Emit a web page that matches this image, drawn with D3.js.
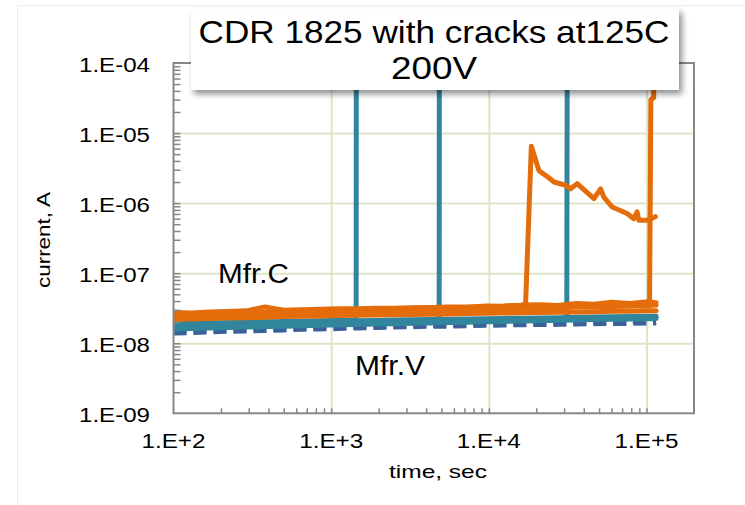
<!DOCTYPE html>
<html><head><meta charset="utf-8">
<script src="https://cdn.jsdelivr.net/npm/d3@7"></script>
<style>body{margin:0;background:#fff}svg{display:block;font-family:Arial,"Liberation Sans",sans-serif}</style>
</head><body>
<svg id="c" width="745" height="505"></svg>
<script>
// ---------- data ----------
const xTickValues = [100, 1000, 10000, 100000];
const xTickLabels = ["1.E+2", "1.E+3", "1.E+4", "1.E+5"];
const yTickValues = [1e-9, 1e-8, 1e-7, 1e-6, 1e-5, 1e-4];
const yTickLabels = ["1.E-09", "1.E-08", "1.E-07", "1.E-06", "1.E-05", "1.E-04"];

const times = [100,130,170,220,290,380,500,650,850,1100,1450,1900,2500,3300,4300,5600,7300,9500,12400,16200,21000,27400,35700,46500,60500,78800,102000,115000];

// Mfr.V dashed (navy)
const dashV1 = [1.45e-8,1.45e-8,1.5e-8,1.55e-8,1.55e-8,1.6e-8,1.6e-8,1.65e-8,1.65e-8,1.7e-8,1.7e-8,1.75e-8,1.75e-8,1.8e-8,1.8e-8,1.8e-8,1.85e-8,1.85e-8,1.85e-8,1.9e-8,1.9e-8,1.95e-8,1.9e-8,2.0e-8,1.9e-8,2.05e-8,1.95e-8,2.0e-8];
const dashV2 = [1.4e-8,1.42e-8,1.45e-8,1.48e-8,1.5e-8,1.52e-8,1.55e-8,1.58e-8,1.6e-8,1.62e-8,1.65e-8,1.68e-8,1.7e-8,1.72e-8,1.75e-8,1.75e-8,1.78e-8,1.8e-8,1.82e-8,1.84e-8,1.85e-8,1.86e-8,1.88e-8,1.9e-8,1.92e-8,1.92e-8,1.94e-8,1.95e-8];

// teal series (full length)
const tealA = [1.6e-8,1.62e-8,1.65e-8,1.68e-8,1.7e-8,1.73e-8,1.75e-8,1.78e-8,1.8e-8,1.83e-8,1.85e-8,1.88e-8,1.9e-8,1.93e-8,1.95e-8,1.98e-8,2.0e-8,2.03e-8,2.05e-8,2.08e-8,2.1e-8,2.13e-8,2.15e-8,2.18e-8,2.2e-8,2.22e-8,2.24e-8,2.25e-8];
const tealC = [1.7e-8,1.72e-8,1.75e-8,1.78e-8,1.8e-8,1.82e-8,1.85e-8,1.88e-8,1.9e-8,1.92e-8,1.95e-8,1.97e-8,2.0e-8,2.02e-8,2.05e-8,2.07e-8,2.1e-8,2.12e-8,2.15e-8,2.17e-8,2.2e-8,2.22e-8,2.24e-8,2.26e-8,2.28e-8,2.3e-8,2.32e-8,2.33e-8];
const tealB = [1.85e-8,1.88e-8,1.9e-8,1.93e-8,1.95e-8,1.98e-8,2.0e-8,2.02e-8,2.05e-8,2.08e-8,2.1e-8,2.12e-8,2.14e-8,2.16e-8,2.18e-8,2.2e-8,2.22e-8,2.24e-8,2.26e-8,2.28e-8,2.3e-8,2.32e-8,2.34e-8,2.36e-8,2.38e-8,2.4e-8,2.42e-8,2.43e-8];
// teal series that fail (current jumps off scale)
const tealS1Times = [100,170,290,500,850,1100,1440,1445];
const tealS1 = [1.9e-8,1.95e-8,2.0e-8,2.05e-8,2.1e-8,2.12e-8,2.15e-8,1e-2];
const tealS2Times = [100,170,290,500,850,1450,2500,3300,4300,4840,4860];
const tealS2 = [1.75e-8,1.8e-8,1.85e-8,1.9e-8,1.95e-8,2.0e-8,2.05e-8,2.1e-8,2.12e-8,2.15e-8,1e-2];
const tealS3Times = [100,170,290,500,850,1450,2500,4300,7300,12400,21000,31200,31500];
const tealS3 = [1.65e-8,1.7e-8,1.75e-8,1.8e-8,1.85e-8,1.9e-8,1.95e-8,2.0e-8,2.05e-8,2.1e-8,2.15e-8,2.2e-8,1e-2];

// Mfr.C orange series
const orangeA = [2.75e-8,2.7e-8,2.8e-8,2.85e-8,2.9e-8,3.3e-8,2.95e-8,3.0e-8,3.05e-8,3.1e-8,3.1e-8,3.15e-8,3.15e-8,3.2e-8,3.25e-8,3.3e-8,3.25e-8,3.4e-8,3.35e-8,3.5e-8,3.55e-8,3.45e-8,3.7e-8,3.6e-8,3.85e-8,3.7e-8,3.9e-8,3.8e-8];
const orangeB = [2.5e-8,2.55e-8,2.6e-8,2.65e-8,2.7e-8,2.75e-8,2.8e-8,2.85e-8,2.9e-8,2.95e-8,2.95e-8,3.0e-8,3.0e-8,3.05e-8,3.1e-8,3.1e-8,3.15e-8,3.2e-8,3.2e-8,3.25e-8,3.3e-8,3.3e-8,3.35e-8,3.4e-8,3.45e-8,3.5e-8,3.45e-8,3.5e-8];
const orangeC = [2.2e-8,2.22e-8,2.25e-8,2.3e-8,2.32e-8,2.35e-8,2.4e-8,2.42e-8,2.45e-8,2.48e-8,2.5e-8,2.52e-8,2.55e-8,2.58e-8,2.6e-8,2.62e-8,2.65e-8,2.68e-8,2.7e-8,2.72e-8,2.75e-8,2.78e-8,2.8e-8,2.82e-8,2.85e-8,2.87e-8,2.9e-8,2.9e-8];
const orangeDecayTimes = [100,170,290,500,850,1450,2500,4300,7300,12400,16200,17100,18600,20800,24000,25900,30700,33000,36300,46400,51100,53600,60500,75300,83000,87100,89300,100700,113800];
const orangeDecay = [2.6e-8,2.65e-8,2.75e-8,2.85e-8,2.9e-8,3.0e-8,3.1e-8,3.2e-8,3.3e-8,3.4e-8,3.5e-8,3.6e-8,6.5e-6,2.9e-6,2.3e-6,2.0e-6,1.8e-6,1.6e-6,1.9e-6,1.16e-6,1.6e-6,1.22e-6,8.8e-7,7.1e-7,6.0e-7,7.5e-7,5.7e-7,5.7e-7,6.4e-7];
const orangeSpikeTimes = [100,170,290,500,850,1450,2500,4300,7300,12400,21000,35700,60500,88000,104500,106500,111000,112500];
const orangeSpike = [2.4e-8,2.45e-8,2.55e-8,2.6e-8,2.7e-8,2.8e-8,2.85e-8,2.95e-8,3.0e-8,3.1e-8,3.2e-8,3.3e-8,3.35e-8,3.4e-8,3.4e-8,3.0e-5,3.2e-5,1e-3];

const ORANGE = "#e46c0a", TEAL = "#31859c", NAVY = "#3a6199";

// ---------- layout ----------
const svg = d3.select("#c");
const L = 173.5, R = 694, T = 63, B = 413.3;
const x = d3.scaleLog().domain([100, 2e5]).range([L, R]);
const y = d3.scaleLog().domain([1e-9, 1e-4]).range([B, T]);

// faint chart-area border
svg.append("rect").attr("x", 17.5).attr("y", 5.5).attr("width", 800).attr("height", 600)
  .attr("fill", "none").attr("stroke", "#ececec").attr("stroke-width", 1);

// gridlines
svg.append("g").attr("transform", `translate(0,${B})`)
  .call(d3.axisBottom(x).tickValues([1000, 10000, 100000]).tickSize(-(B - T)).tickFormat(""))
  .call(g => { g.select(".domain").remove(); g.selectAll("line").attr("stroke", "#dce6c6").attr("stroke-width", 2); });
svg.append("g").attr("transform", `translate(${L},0)`)
  .call(d3.axisLeft(y).tickValues([1e-8, 1e-7, 1e-6, 1e-5]).tickSize(-(R - L)).tickFormat(""))
  .call(g => { g.select(".domain").remove(); g.selectAll("line").attr("stroke", "#dce6c6").attr("stroke-width", 2); });

// clip
svg.append("clipPath").attr("id", "clip").append("rect")
  .attr("x", L).attr("y", T).attr("width", R - L).attr("height", B - T);
const plot = svg.append("g").attr("clip-path", "url(#clip)");

const line = d3.line().x(d => x(d[0])).y(d => y(d[1]));
function draw(ts, vs, color, dash) {
  plot.append("path").datum(ts.map((t, i) => [t, vs[i]]))
    .attr("d", line).attr("fill", "none").attr("stroke", color)
    .attr("stroke-width", 5).attr("stroke-linejoin", "round")
    .attr("stroke-linecap", dash ? "butt" : "round")
    .attr("stroke-dasharray", dash ? "13,7" : null);
}
draw(times, dashV2, NAVY, true);
draw(times, dashV1, NAVY, true);
draw(times, tealA, TEAL);
draw(times, tealC, TEAL);
draw(times, tealB, TEAL);
draw(tealS1Times, tealS1, TEAL);
draw(tealS2Times, tealS2, TEAL);
draw(tealS3Times, tealS3, TEAL);
draw(orangeDecayTimes, orangeDecay, ORANGE);
draw(times, orangeC, ORANGE);
draw(times, orangeB, ORANGE);
draw(times, orangeA, ORANGE);
draw(orangeSpikeTimes, orangeSpike, ORANGE);

// axes: minor ticks inside
const minorX = [], minorY = [];
for (let e = 2; e <= 5; e++) for (let m = 1; m <= 9; m++) { const v = m * Math.pow(10, e); if (v > 100 && v < 2e5) minorX.push(v); }
for (let e = -9; e <= -5; e++) for (let m = 1; m <= 9; m++) { const v = m * Math.pow(10, e); if (v > 1e-9) minorY.push(v); }
svg.append("g").attr("transform", `translate(0,${B})`)
  .call(d3.axisBottom(x).tickValues(minorX).tickSize(-5).tickFormat(""))
  .call(g => { g.select(".domain").remove(); g.selectAll("line").attr("stroke", "#878787").attr("stroke-width", 1.5); });
svg.append("g").attr("transform", `translate(${L},0)`)
  .call(d3.axisLeft(y).tickValues(minorY).tickSize(-7).tickFormat(""))
  .call(g => { g.select(".domain").remove(); g.selectAll("line").attr("stroke", "#878787").attr("stroke-width", 1.5); });

// frame
svg.append("rect").attr("x", L).attr("y", T).attr("width", R - L).attr("height", B - T)
  .attr("fill", "none").attr("stroke", "#878787").attr("stroke-width", 2);

// tick labels
svg.append("g").selectAll("text").data(xTickValues).join("text")
  .attr("x", d => x(d)).attr("y", 448).attr("text-anchor", "middle")
  .attr("font-size", 20).attr("fill", "#000")
  .attr("textLength", 64).attr("lengthAdjust", "spacingAndGlyphs")
  .text((d, i) => xTickLabels[i]);
svg.append("g").selectAll("text").data(yTickValues).join("text")
  .attr("x", 79).attr("y", d => y(d) + 9)
  .attr("font-size", 20).attr("fill", "#000")
  .attr("textLength", 71).attr("lengthAdjust", "spacingAndGlyphs")
  .text((d, i) => yTickLabels[i]);

// axis titles
svg.append("text").attr("x", 389).attr("y", 478).attr("font-size", 19)
  .attr("textLength", 98).attr("lengthAdjust", "spacingAndGlyphs").text("time, sec");
svg.append("text").attr("transform", "translate(50,288) rotate(-90)").attr("font-size", 19)
  .attr("textLength", 96).attr("lengthAdjust", "spacingAndGlyphs").text("current, A");

// series labels
svg.append("text").attr("x", 218).attr("y", 283).attr("font-size", 27)
  .attr("textLength", 71).attr("lengthAdjust", "spacingAndGlyphs").text("Mfr.C");
svg.append("text").attr("x", 355).attr("y", 375).attr("font-size", 27)
  .attr("textLength", 70).attr("lengthAdjust", "spacingAndGlyphs").text("Mfr.V");

// title box with shadow
const defs = svg.append("defs");
const f = defs.append("filter").attr("id", "sh").attr("x", "-10%").attr("y", "-20%").attr("width", "130%").attr("height", "160%");
f.append("feDropShadow").attr("dx", 3).attr("dy", 4).attr("stdDeviation", 3).attr("flood-color", "#000").attr("flood-opacity", 0.45);
svg.append("rect").attr("x", 191).attr("y", 8.5).attr("width", 488).attr("height", 81.5)
  .attr("fill", "#fff").attr("filter", "url(#sh)");
svg.append("text").attr("x", 434).attr("y", 43).attr("text-anchor", "middle").attr("font-size", 32)
  .attr("textLength", 471).attr("lengthAdjust", "spacingAndGlyphs").text("CDR 1825 with cracks at125C");
svg.append("text").attr("x", 434).attr("y", 78.5).attr("text-anchor", "middle").attr("font-size", 32)
  .attr("textLength", 86).attr("lengthAdjust", "spacingAndGlyphs").text("200V");
</script>
</body></html>
